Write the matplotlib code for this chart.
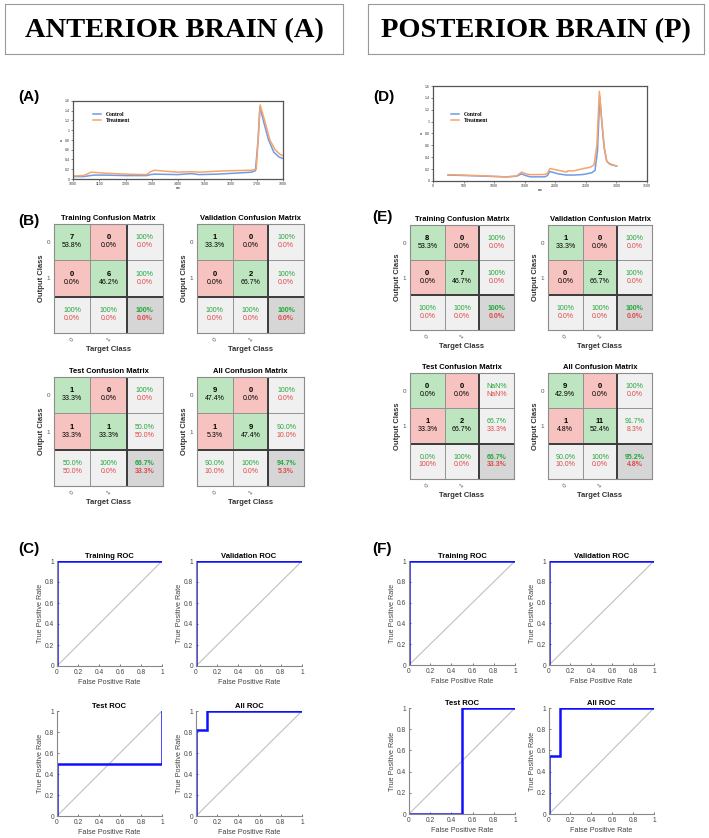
import numpy as np
import matplotlib
matplotlib.use('Agg')
import matplotlib.pyplot as plt
from matplotlib.patches import Rectangle

plt.rcParams['font.family'] = ['Liberation Sans', 'DejaVu Sans']

W, H = 709, 838

# ---- spectra ----
a_x_ctrl = [1000, 1040, 1080, 1120, 1200, 1280, 1295, 1310, 1400, 1450, 1480, 1550, 1620, 1680, 1695, 1705, 1712, 1725, 1745, 1765, 1785, 1800]
a_y_ctrl = [0.05, 0.05, 0.08, 0.08, 0.07, 0.07, 0.09, 0.10, 0.09, 0.11, 0.09, 0.10, 0.12, 0.14, 0.17, 0.80, 1.48, 1.20, 0.80, 0.55, 0.45, 0.42]
a_x_trt = [1000, 1040, 1070, 1120, 1200, 1280, 1295, 1312, 1350, 1400, 1450, 1480, 1550, 1600, 1680, 1698, 1706, 1713, 1730, 1750, 1770, 1790, 1800]
a_y_trt = [0.06, 0.07, 0.14, 0.12, 0.10, 0.09, 0.15, 0.18, 0.16, 0.14, 0.15, 0.14, 0.16, 0.17, 0.18, 0.20, 0.85, 1.52, 1.20, 0.80, 0.60, 0.50, 0.48]

d_x_ctrl = [246, 600, 874, 1200, 1366, 1448, 1520, 1590, 1830, 1870, 1913, 2050, 2186, 2300, 2460, 2600, 2650, 2690, 2728, 2760, 2800, 2842, 2896, 3005]
d_y_ctrl = [0.10, 0.09, 0.08, 0.07, 0.08, 0.12, 0.09, 0.07, 0.07, 0.09, 0.16, 0.12, 0.10, 0.10, 0.11, 0.14, 0.18, 0.50, 1.43, 1.00, 0.55, 0.33, 0.28, 0.25]
d_x_trt = [246, 600, 874, 1200, 1366, 1448, 1520, 1585, 1830, 1870, 1913, 2050, 2186, 2200, 2300, 2459, 2568, 2634, 2680, 2721, 2760, 2800, 2842, 2896, 3005]
d_y_trt = [0.107, 0.095, 0.085, 0.068, 0.085, 0.15, 0.12, 0.107, 0.11, 0.13, 0.21, 0.18, 0.15, 0.17, 0.17, 0.21, 0.23, 0.27, 0.60, 1.51, 1.03, 0.58, 0.33, 0.29, 0.25]

# ---- confusion matrices (rows = output class, cols = target class) ----
cm_b_train = np.array([[7, 0], [0, 6]])
cm_b_valid = np.array([[1, 0], [0, 2]])
cm_b_test = np.array([[1, 0], [1, 1]])
cm_b_all = np.array([[9, 0], [1, 9]])
cm_e_train = np.array([[8, 0], [0, 7]])
cm_e_valid = np.array([[1, 0], [0, 2]])
cm_e_test = np.array([[0, 0], [1, 2]])
cm_e_all = np.array([[9, 0], [1, 11]])
cm_titles = ['Training Confusion Matrix', 'Validation Confusion Matrix', 'Test Confusion Matrix', 'All Confusion Matrix']

# ---- ROC curves ----
roc_perfect_fpr = [0, 0, 1]
roc_perfect_tpr = [0, 1, 1]
roc_c_test_fpr = [0, 0, 1, 1]
roc_c_test_tpr = [0, 0.5, 0.5, 1]
roc_c_all_fpr = [0, 0, 0.1, 0.1, 1]
roc_c_all_tpr = [0, 0.82, 0.82, 1, 1]
roc_f_test_fpr = [0, 0.5, 0.5, 1]
roc_f_test_tpr = [0, 0, 1, 1]
roc_f_all_fpr = [0, 0, 0.1, 0.1, 1]
roc_f_all_tpr = [0, 0.55, 0.55, 1, 1]
roc_titles = ['Training ROC', 'Validation ROC', 'Test ROC', 'All ROC']


def rect(l, t, r, b):
    return [l / W, 1 - b / H, (r - l) / W, (b - t) / H]


def pct(v):
    if np.isnan(v):
        return 'NaN%'
    if round(v, 1) == 100:
        return '100%'
    return '%.1f%%' % v


def spectrum(box, xc, yc, xt, yt, xticks, leg_anchor):
    ax = fig.add_axes(rect(*box))
    ax.plot(xc, yc, color='#6f9be8', lw=1.1, label='Control')
    ax.plot(xt, yt, color='#f5a46c', lw=1.1, label='Treatment')
    ax.set_xlim(xticks[0], xticks[-1])
    ax.set_ylim(0, 1.6)
    ax.set_xticks(xticks)
    ax.set_yticks(np.arange(0, 1.61, 0.2))
    ax.set_yticklabels(['0', '0.2', '0.4', '0.6', '0.8', '1', '1.2', '1.4', '1.6'])
    ax.tick_params(labelsize=2.5, length=1.2, width=0.4, pad=1, colors='#333333')
    for s in ax.spines.values():
        s.set_color('#555555')
        s.set_linewidth(0.9)
    ax.set_xlabel('cm', fontsize=2.5, labelpad=0)
    ax.set_ylabel('a', fontsize=2.5, labelpad=1)
    ax.legend(loc='upper left', bbox_to_anchor=leg_anchor, frameon=False,
              prop={'family': 'Liberation Serif', 'weight': 'bold', 'size': 4},
              handlelength=1.5, labelspacing=0.2)


def confusion(box, cm, title):
    ax = fig.add_axes(rect(*box))
    total = cm.sum()
    green, red, grey, dark = '#bde5bf', '#f6c3c0', '#f0f0f0', '#d6d6d6'
    for i in range(3):
        for j in range(3):
            if i < 2 and j < 2:
                fc = green if i == j else red
                ax.add_patch(Rectangle((j, i), 1, 1, fc=fc, ec='#8c8c8c', lw=0.6))
                ax.text(j + 0.5, i + 0.38, str(cm[i, j]), ha='center', va='center', fontsize=5.5, weight='bold')
                ax.text(j + 0.5, i + 0.6, pct(100.0 * cm[i, j] / total), ha='center', va='center', fontsize=5)
                continue
            if i < 2:
                s = cm[i].sum()
                v = 100.0 * cm[i, i] / s if s > 0 else np.nan
                fc, w = grey, 'normal'
            elif j < 2:
                s = cm[:, j].sum()
                v = 100.0 * cm[j, j] / s if s > 0 else np.nan
                fc, w = grey, 'normal'
            else:
                v = 100.0 * np.trace(cm) / total
                fc, w = dark, 'bold'
            ax.add_patch(Rectangle((j, i), 1, 1, fc=fc, ec='#8c8c8c', lw=0.6))
            ax.text(j + 0.5, i + 0.38, pct(v), ha='center', va='center', fontsize=5, color='#22a83a', weight=w)
            ax.text(j + 0.5, i + 0.6, pct(100 - v), ha='center', va='center', fontsize=5, color='#e04848', weight=w)
    ax.plot([2, 2], [0, 3], color='#3c3c3c', lw=1.4)
    ax.plot([0, 3], [2, 2], color='#3c3c3c', lw=1.4)
    ax.set_xlim(0, 3)
    ax.set_ylim(3, 0)
    ax.set_xticks([0.5, 1.5])
    ax.set_xticklabels(['0', '1'], rotation=45)
    ax.set_yticks([0.5, 1.5])
    ax.set_yticklabels(['0', '1'])
    ax.tick_params(length=0, labelsize=4.5, colors='#555555', pad=3)
    for s in ax.spines.values():
        s.set_color('#8c8c8c')
        s.set_linewidth(0.8)
    ax.set_title(title, fontsize=5.5, weight='bold', pad=3)
    ax.set_xlabel('Target Class', fontsize=5.5, weight='bold', labelpad=2, color='#333333')
    ax.set_ylabel('Output Class', fontsize=5.5, weight='bold', labelpad=1, color='#333333')


def roc(box, fpr, tpr, title):
    ax = fig.add_axes(rect(*box))
    ax.plot([0, 1], [0, 1], color='#c0c0c0', lw=0.8)
    ax.plot(fpr, tpr, color='#1010ff', lw=1.8, solid_joinstyle='miter')
    ax.set_xlim(0, 1)
    ax.set_ylim(0, 1)
    ax.set_xticks(np.arange(0, 1.01, 0.2))
    ax.set_yticks(np.arange(0, 1.01, 0.2))
    ax.set_xticklabels(['0', '0.2', '0.4', '0.6', '0.8', '1'])
    ax.set_yticklabels(['0', '0.2', '0.4', '0.6', '0.8', '1'])
    ax.tick_params(labelsize=4.8, length=1.5, width=0.5, direction='in', colors='#444444', pad=2)
    ax.spines['top'].set_visible(False)
    ax.spines['right'].set_visible(False)
    ax.spines['left'].set_color('#888888')
    ax.spines['bottom'].set_color('#888888')
    ax.set_title(title, fontsize=5.5, weight='bold', pad=2)
    ax.set_xlabel('False Positive Rate', fontsize=5.2, color='#444444', labelpad=2)
    ax.set_ylabel('True Positive Rate', fontsize=5.2, color='#444444', labelpad=1)


fig = plt.figure(figsize=(W / 100, H / 100), dpi=100)

# header boxes
for (l, r, txt) in [(5, 343, 'ANTERIOR BRAIN (A)'), (368, 704, 'POSTERIOR BRAIN (P)')]:
    hb = fig.add_axes(rect(l, 4, r, 54))
    hb.set_xticks([])
    hb.set_yticks([])
    for s in hb.spines.values():
        s.set_color('#999999')
        s.set_linewidth(0.8)
    hb.text(0.5, 0.46, txt, ha='center', va='center', fontsize=20.5, weight='bold',
            family='Liberation Serif', transform=hb.transAxes)

# panel letters
for (x, y, lab) in [(18, 97, '(A)'), (373, 97, '(D)'), (18, 221, '(B)'), (372, 217, '(E)'),
                    (18, 549, '(C)'), (372, 549, '(F)')]:
    fig.text(x / W, 1 - y / H, lab, fontsize=11, weight='bold', va='center')

spectrum((73, 101, 283, 179), a_x_ctrl, a_y_ctrl, a_x_trt, a_y_trt,
         list(range(1000, 1801, 100)), (0.07, 0.92))
spectrum((433, 86, 647, 181), d_x_ctrl, d_y_ctrl, d_x_trt, d_y_trt,
         list(range(0, 3501, 500)), (0.06, 0.78))

b_boxes = [(54, 224, 163, 333), (197, 224, 304, 333), (54, 377, 163, 486), (197, 377, 304, 486)]
e_boxes = [(410, 225, 514, 330), (548, 225, 652, 330), (410, 373, 514, 479), (548, 373, 652, 479)]
for box, cm, t in zip(b_boxes, [cm_b_train, cm_b_valid, cm_b_test, cm_b_all], cm_titles):
    confusion(box, cm, t)
for box, cm, t in zip(e_boxes, [cm_e_train, cm_e_valid, cm_e_test, cm_e_all], cm_titles):
    confusion(box, cm, t)

c_boxes = [(57, 561, 162, 666), (196, 561, 302, 666), (57, 711, 162, 816), (196, 711, 302, 816)]
f_boxes = [(409, 561, 515, 665), (549, 561, 654, 665), (409, 708, 515, 814), (549, 708, 654, 814)]
c_curves = [(roc_perfect_fpr, roc_perfect_tpr), (roc_perfect_fpr, roc_perfect_tpr),
            (roc_c_test_fpr, roc_c_test_tpr), (roc_c_all_fpr, roc_c_all_tpr)]
f_curves = [(roc_perfect_fpr, roc_perfect_tpr), (roc_perfect_fpr, roc_perfect_tpr),
            (roc_f_test_fpr, roc_f_test_tpr), (roc_f_all_fpr, roc_f_all_tpr)]
for box, (fp, tp), t in zip(c_boxes, c_curves, roc_titles):
    roc(box, fp, tp, t)
for box, (fp, tp), t in zip(f_boxes, f_curves, roc_titles):
    roc(box, fp, tp, t)

fig.savefig('out.png', dpi=100)
